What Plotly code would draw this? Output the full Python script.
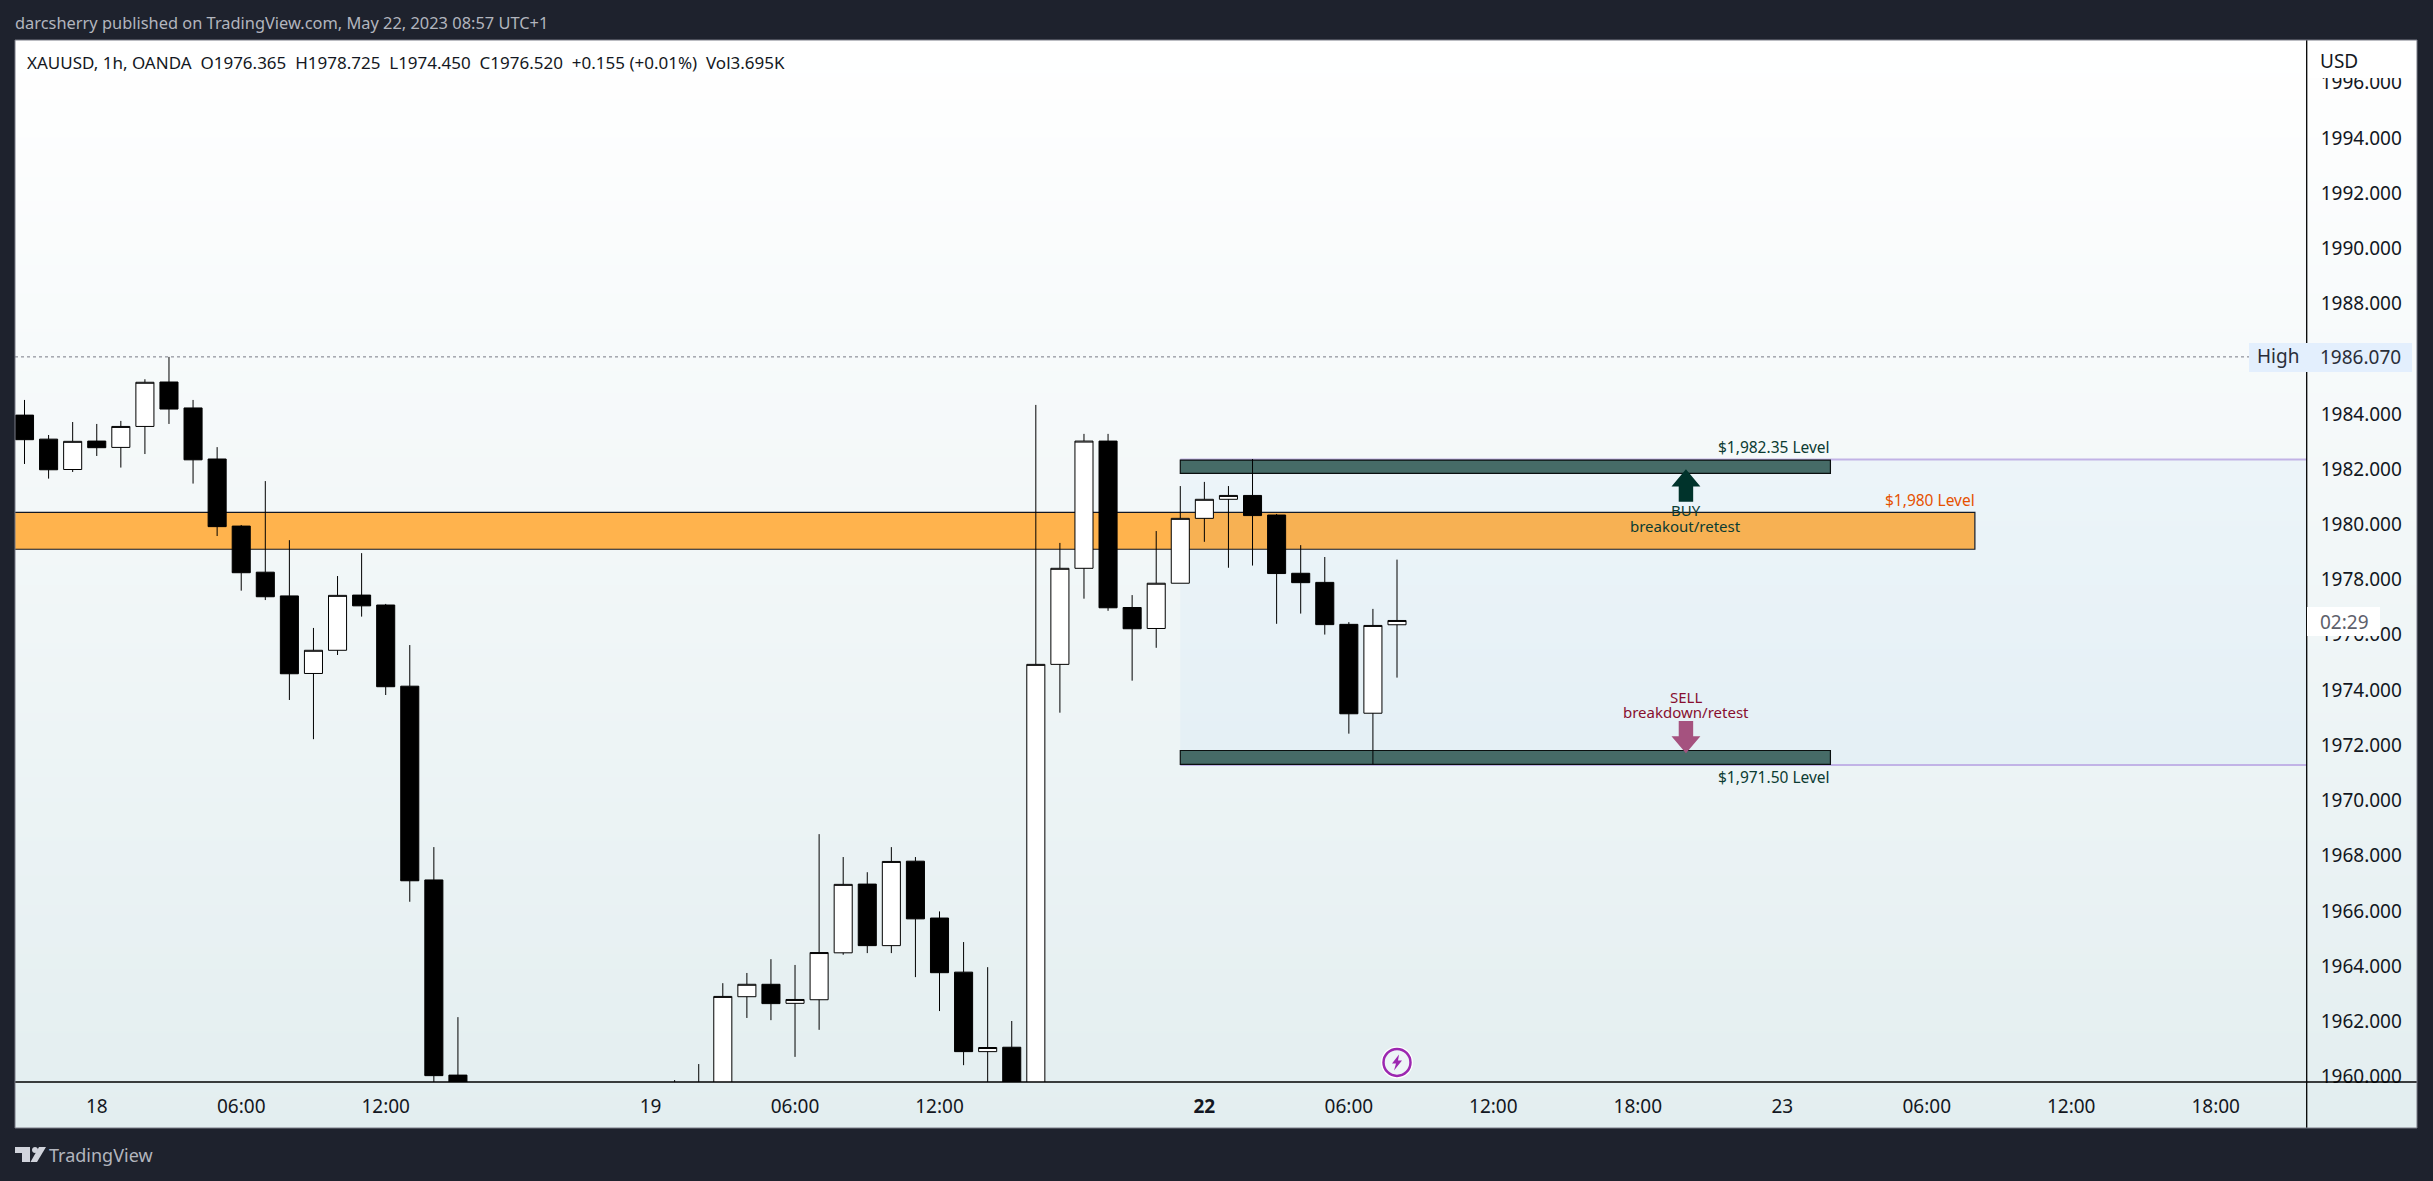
import plotly.graph_objects as go

W, H = 2433, 1181
H_PLOT = 1174  # height of the paper area left after Plotly's own margin push

# bar index (hourly bars; the bars between 19 and 26 lie wholly below the visible range)
bar_index = [0,1,2,3,4,5,6,7,8,9,10,11,12,13,14,15,16,17,18,27,28,29,30,31,32,33,34,35,36,37,38,39,40,41,42,43,44,45,46,47,48,49,50,51,52,53,54,55,56,57]
opens = [1983.96,1983.09,1981.99,1983.02,1982.79,1983.55,1985.16,1984.22,1982.37,1979.94,1978.27,1977.41,1974.60,1975.44,1977.44,1977.08,1974.14,1967.12,1960.05,
         1958.5,1958.8,1959.3,1962.89,1963.34,1962.65,1962.78,1964.48,1966.97,1964.74,1967.80,1965.74,1963.78,1960.90,1961.06,1958.8,
         1974.93,1978.41,1983.02,1976.99,1976.23,1977.87,1980.22,1980.91,1981.05,1980.34,1978.23,1977.90,1976.38,1973.16,1976.365]
highs = [1984.51,1983.24,1983.71,1983.64,1983.75,1985.26,1986.07,1984.51,1982.80,1979.98,1981.57,1979.43,1976.25,1978.13,1978.96,1977.12,1975.63,1968.31,1962.15,
         1959.87,1960.45,1963.38,1963.75,1964.25,1964.04,1968.78,1967.95,1967.40,1968.31,1967.95,1965.98,1964.87,1963.96,1962.01,1984.33,
         1979.33,1983.28,1983.28,1977.44,1979.76,1981.39,1981.54,1981.39,1982.37,1980.38,1979.25,1978.82,1976.46,1976.94,1978.725]
lows = [1982.19,1981.66,1981.90,1982.48,1982.06,1982.55,1983.64,1981.48,1979.58,1977.60,1977.26,1973.64,1972.22,1975.27,1976.66,1973.82,1966.33,1959.5,1958.5,
        1958.0,1958.5,1959.0,1962.12,1962.04,1960.71,1961.69,1964.41,1964.47,1964.47,1963.60,1962.37,1960.41,1959.5,1958.5,1958.5,
        1973.18,1977.31,1976.87,1974.34,1975.53,1977.87,1979.37,1978.43,1978.51,1976.40,1976.77,1976.01,1972.42,1971.31,1974.45]
closes = [1983.07,1981.98,1983.01,1982.78,1983.55,1985.15,1984.18,1982.34,1979.92,1978.25,1977.38,1974.59,1975.44,1977.43,1977.05,1974.12,1967.09,1960.03,1959.0,
          1959.0,1959.3,1962.90,1963.34,1962.64,1962.79,1964.49,1966.96,1964.74,1967.79,1965.71,1963.76,1960.90,1961.05,1959.0,1974.93,
          1978.41,1983.02,1976.98,1976.22,1977.87,1980.22,1980.91,1981.05,1980.32,1978.22,1977.89,1976.37,1973.14,1976.34,1976.52]

time_tick_pos = [3,9,15,26,32,38,49,55,61,67,73,79,85,91]
time_tick_lab = ["18","06:00","12:00","19","06:00","12:00","<b>22</b>","06:00","12:00","18:00","23","06:00","12:00","18:00"]
price_ticks = [1960,1962,1964,1966,1968,1970,1972,1974,1976,1978,1980,1982,1984,1986,1988,1990,1992,1994,1996]

X_RANGE = [-0.395, 94.78]
Y_RANGE = [1959.80, 1997.55]

HIGH = 1986.07
RANGE_TOP, RANGE_BOT = 1982.35, 1971.28
ZONE_X = [48, 75]
ZONE_TOP = [1981.85, 1982.33]
ZONE_BOT = [1971.31, 1971.81]
ORANGE = [1979.10, 1980.44]
ORANGE_X1 = 81
ARROW_X = 69
ARROW_UP = [1982.0, 1981.37, 1980.82]
ARROW_DN = [1971.71, 1972.33, 1972.88]
FLASH_X, FLASH_Y = 57, 1960.51

FONT = "Noto Sans"
INK = "#131722"
DARK = "#1e222d"
GREEN_TXT = "#0b3b32"


def px(v):
    return v / W


def py(v):
    return 1 - v / H_PLOT


fig = go.Figure()

# panel background gradient
fig.add_trace(go.Heatmap(x=[0, 1], y=[0, 1], z=[[0, 0], [1, 1]], zsmooth="best", showscale=False,
                         colorscale=[[0, "#e3eef0"], [1, "#ffffff"]], hoverinfo="skip",
                         xaxis="x", yaxis="y"))

fig.add_trace(go.Candlestick(
    x=bar_index, open=opens, high=highs, low=lows, close=closes,
    xaxis="x2", yaxis="y2", whiskerwidth=0, showlegend=False, hoverinfo="skip",
    increasing=dict(fillcolor="#ffffff", line=dict(color="#000000", width=1)),
    decreasing=dict(fillcolor="#000000", line=dict(color="#000000", width=1)),
))

# event marker
fig.add_trace(go.Scatter(x=[FLASH_X], y=[FLASH_Y], mode="markers", xaxis="x2", yaxis="y2",
                         showlegend=False, hoverinfo="skip",
                         marker=dict(size=32, color="#ffffff", line=dict(width=0))))
fig.add_trace(go.Scatter(x=[FLASH_X], y=[FLASH_Y], mode="markers", xaxis="x2", yaxis="y2",
                         showlegend=False, hoverinfo="skip",
                         marker=dict(size=27, color="#edf4f6", line=dict(width=2.5, color="#9c27b0"))))

shapes = []


def rect(x0, x1, y0, y1, fill, line=None, lw=0, layer="below"):
    shapes.append(dict(type="rect", xref="x2", yref="y2", x0=x0, x1=x1, y0=y0, y1=y1,
                       fillcolor=fill, line=dict(color=line or fill, width=lw), layer=layer))


rect(X_RANGE[0] - 3, ORANGE_X1, ORANGE[0], ORANGE[1], "#ffb34d", "#131722", 1.2)
rect(ZONE_X[0], X_RANGE[1], RANGE_BOT, RANGE_TOP, "rgba(33,150,243,0.035)")
for yv in (RANGE_TOP, RANGE_BOT):
    shapes.append(dict(type="line", xref="x2", yref="y2", x0=ZONE_X[0], x1=X_RANGE[1], y0=yv, y1=yv,
                       line=dict(color="#c1b3e6", width=2), layer="below"))
rect(ZONE_X[0], ZONE_X[1], ZONE_TOP[0], ZONE_TOP[1], "#466b67", "#0a0f0f", 1.2)
rect(ZONE_X[0], ZONE_X[1], ZONE_BOT[0], ZONE_BOT[1], "#466b67", "#0a0f0f", 1.2)
shapes.append(dict(type="line", xref="x2", yref="y2", x0=X_RANGE[0], x1=X_RANGE[1], y0=HIGH, y1=HIGH,
                   line=dict(color="#787b86", width=1, dash="dot"), layer="below"))


def arrow(ys, color):
    tip, base, tail = ys
    hw, sw = 0.6, 0.3
    a = ARROW_X
    pts = [(a, tip), (a + hw, base), (a + sw, base), (a + sw, tail), (a - sw, tail), (a - sw, base), (a - hw, base)]
    path = "M " + " L ".join(f"{x},{y}" for x, y in pts) + " Z"
    shapes.append(dict(type="path", xref="x2", yref="y2", path=path, fillcolor=color,
                       line=dict(width=0), layer="above"))


arrow(ARROW_UP, "#00332b")
arrow(ARROW_DN, "#a5527f")

# lightning bolt in the event marker
shapes.append(dict(type="path", xref="x2", yref="y2", xsizemode="pixel", ysizemode="pixel",
                   xanchor=FLASH_X, yanchor=FLASH_Y,
                   path="M 2,8 L -5,-1 L -1,-1 L -3,-8 L 5,2 L 1,2 Z",
                   fillcolor="#9c27b0", line=dict(width=0), layer="above"))

# covers that clip the price scale, then the scale lines
for (x0, x1, y0, y1, c) in [
    (2308, 2416, 41, 78, "#ffffff"),
    (2308, 2416, 1083, 1127, "#e3eef0"),
]:
    shapes.append(dict(type="rect", xref="paper", yref="paper", x0=px(x0), x1=px(x1), y0=py(y1), y1=py(y0),
                       fillcolor=c, line=dict(width=0), layer="above"))
shapes.append(dict(type="line", xref="paper", yref="paper", x0=px(15), x1=px(2417), y0=py(1082), y1=py(1082),
                   line=dict(color="#000000", width=1.3), layer="above"))
shapes.append(dict(type="line", xref="paper", yref="paper", x0=px(2306.7), x1=px(2306.7), y0=py(40), y1=py(1128),
                   line=dict(color="#000000", width=1.3), layer="above"))
shapes.append(dict(type="rect", xref="paper", yref="paper", x0=px(2249), x1=px(2412), y0=py(372), y1=py(343),
                   fillcolor="#e3effd", line=dict(width=0), layer="above"))
shapes.append(dict(type="rect", xref="paper", yref="paper", x0=px(2307), x1=px(2380), y0=py(636), y1=py(607),
                   fillcolor="#ffffff", line=dict(width=0), layer="above"))
shapes.append(dict(type="rect", xref="paper", yref="paper", x0=px(15), x1=px(2417), y0=py(1128), y1=py(40),
                   fillcolor="rgba(0,0,0,0)", line=dict(color="#787b86", width=1), layer="above"))
# footer logo
logo_common = dict(type="path", xref="paper", yref="paper", xsizemode="pixel", ysizemode="pixel",
                   xanchor=px(15), yanchor=py(1162), fillcolor="#d1d4dc", line=dict(width=0), layer="above")
shapes.append(dict(logo_common, path="M 0,15 L 15,15 L 15,0 L 7,0 L 7,9 L 0,9 Z"))
shapes.append(dict(logo_common, path="M 24,15 L 31,15 L 22,0 L 15.5,0 Z"))
shapes.append(dict(logo_common, path="M 17,12 C 17,8 23,8 23,12 C 23,16 17,16 17,12 Z"))

ann = []


def paper_text(text, x, y, size, color, anchor="left", font=FONT):
    ann.append(dict(text=text, xref="paper", yref="paper", x=px(x), y=py(y), xanchor=anchor, yanchor="middle",
                    showarrow=False, font=dict(family=font, size=size, color=color), borderpad=0, borderwidth=0))


def data_text(text, x, y, size, color, anchor="center"):
    ann.append(dict(text=text, xref="x2", yref="y2", x=x, y=y, xanchor=anchor, yanchor="middle",
                    showarrow=False, font=dict(family=FONT, size=size, color=color), borderpad=0, borderwidth=0))


paper_text("darcsherry published on TradingView.com, May 22, 2023 08:57 UTC+1", 15, 23, 16.4, "#b2b5be")
paper_text("XAUUSD, 1h, OANDA  O1976.365  H1978.725  L1974.450  C1976.520  +0.155 (+0.01%)  Vol3.695K", 27, 63, 17, INK)
paper_text("USD", 2320, 61, 19, INK)
paper_text("High", 2257, 356, 19, "#2a2e39")
paper_text("1986.070", 2320, 357, 19, "#2a2e39")
paper_text("02:29", 2320, 622, 19, "#5d606b")
paper_text("TradingView", 49, 1155, 18, "#b2b5be")

data_text("$1,982.35 Level", ZONE_X[1], 1982.82, 15.5, GREEN_TXT, "right")
data_text("$1,980 Level", ORANGE_X1, 1980.88, 15.5, "#e65100", "right")
data_text("BUY", ARROW_X, 1980.52, 15, GREEN_TXT)
data_text("breakout/retest", ARROW_X, 1979.94, 15, GREEN_TXT)
data_text("SELL", ARROW_X, 1973.76, 15, "#880e2f")
data_text("breakdown/retest", ARROW_X, 1973.20, 15, "#880e2f")
data_text("$1,971.50 Level", ZONE_X[1], 1970.86, 15.5, GREEN_TXT, "right")

fig.update_layout(
    width=W, height=H, margin=dict(l=0, r=0, t=0, b=0, pad=0), autosize=False,
    paper_bgcolor=DARK, plot_bgcolor="rgba(0,0,0,0)", showlegend=False, boxgap=0.25, boxgroupgap=0,
    dragmode=False, hovermode=False, shapes=shapes, annotations=ann,
    font=dict(family=FONT, size=19, color=INK),
    xaxis=dict(domain=[px(15), px(2417)], range=[0, 1], visible=False, fixedrange=True, anchor="y"),
    yaxis=dict(domain=[py(1128), py(40)], range=[0, 1], visible=False, fixedrange=True, anchor="x"),
    xaxis2=dict(domain=[px(15), px(2306.7)], range=X_RANGE, anchor="y2", fixedrange=True, showgrid=False,
                zeroline=False, rangeslider=dict(visible=False), tickmode="array", tickvals=time_tick_pos,
                ticktext=time_tick_lab, ticks="", ticklen=0, ticklabelstandoff=11,
                tickfont=dict(family=FONT, size=19, color=INK), showline=False),
    yaxis2=dict(domain=[py(1082), py(40)], range=Y_RANGE, anchor="x2", side="right", fixedrange=True,
                showgrid=False, zeroline=False, tickmode="array", tickvals=price_ticks, tickformat=".3f",
                ticks="", ticklen=0, ticklabelstandoff=13, showline=False,
                tickfont=dict(family=FONT, size=19, color=INK)),
)

fig.write_html("out.html", config={"displayModeBar": False},
               post_script="document.body.style.margin='0';document.body.style.background='#1e222d';document.body.style.overflow='hidden';")
